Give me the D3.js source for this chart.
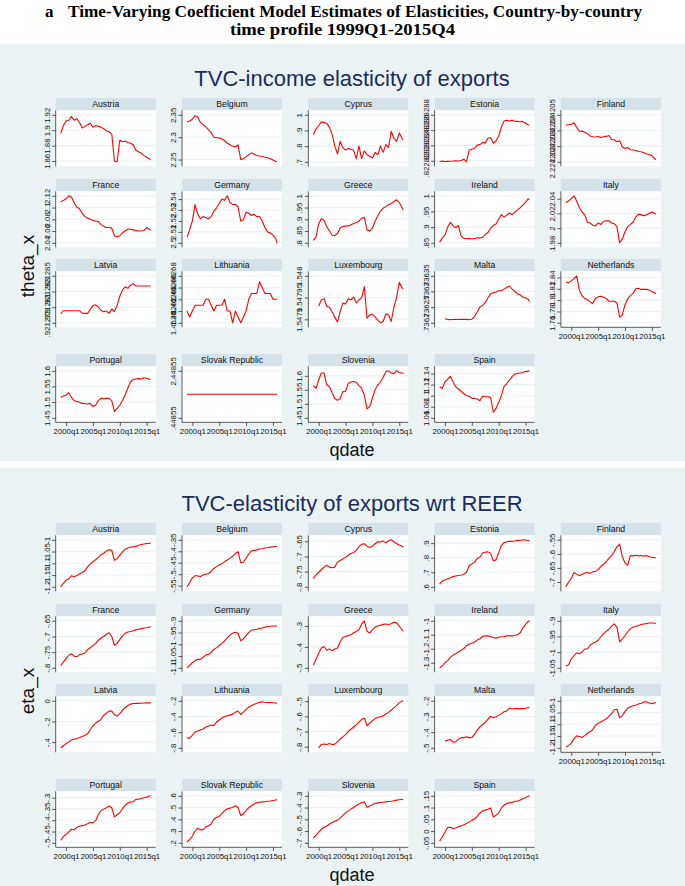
<!DOCTYPE html>
<html><head><meta charset="utf-8">
<script src="https://cdn.jsdelivr.net/npm/d3@7"></script>
<style>body{margin:0;background:#fff} svg{display:block}</style>
</head><body>
<svg id="chart" width="685" height="886"></svg>
<script>
const quarters = ["1999q1","1999q3","2000q1","2000q3","2001q1","2001q3","2002q1","2002q3","2003q1","2003q3","2004q1","2004q3","2005q1","2005q3","2006q1","2006q3","2007q1","2007q3","2008q1","2008q3","2009q1","2009q3","2010q1","2010q3","2011q1","2011q3","2012q1","2012q3","2013q1","2013q3","2014q1","2014q3","2015q1","2015q3","2015q4"];
const xTickLabels = ["2000q1","2005q1","2010q1","2015q1"];
const countries = ["Austria","Belgium","Cyprus","Estonia","Finland","France","Germany","Greece","Ireland","Italy","Latvia","Lithuania","Luxembourg","Malta","Netherlands","Portugal","Slovak Republic","Slovenia","Spain"];

// theta_x (income elasticity)
const thetaAustria = [1.896,1.906,1.912,1.913,1.918,1.913,1.915,1.91,1.903,1.905,1.907,1.909,1.904,1.906,1.905,1.904,1.902,1.899,1.898,1.895,1.86,1.859,1.887,1.885,1.886,1.884,1.883,1.881,1.874,1.872,1.87,1.867,1.865,1.863,1.862];
const thetaBelgium = [2.334,2.336,2.34,2.348,2.345,2.333,2.328,2.323,2.317,2.31,2.3,2.299,2.298,2.296,2.292,2.287,2.283,2.28,2.278,2.283,2.25,2.252,2.256,2.261,2.265,2.262,2.259,2.258,2.257,2.255,2.254,2.252,2.249,2.246,2.245];
const thetaCyprus = [.875,.91,.93,.955,.95,.945,.92,.875,.8,.75,.83,.79,.775,.785,.78,.775,.72,.8,.72,.77,.745,.735,.725,.76,.745,.8,.76,.81,.79,.895,.85,.83,.885,.85,.84];
const thetaEstonia = [.82282819,.822828196,.82282819,.822828192,.822828194,.822828196,.8228282,.822828196,.822828204,.82282822,.822828186,.82282834,.82282835,.82282836,.822828404,.82282841,.82282844,.82282843,.822828496,.8228285,.822828428,.82282846,.82282852,.82282864,.82282872,.82282873,.82282872,.82282873,.822828716,.822828714,.82282871,.822828714,.82282869,.822828666,.822828664];
const thetaFinland = [2.22420433,2.22420436,2.2242044,2.2242045,2.2242042,2.22420395,2.22420397,2.22420388,2.2242038,2.22420365,2.2242036,2.22420358,2.22420362,2.22420355,2.2242036,2.22420362,2.22420368,2.22420342,2.2242034,2.22420328,2.22420335,2.22420295,2.22420285,2.22420292,2.22420277,2.22420275,2.22420272,2.22420266,2.22420264,2.22420258,2.2242025,2.22420247,2.2242024,2.2242022,2.22420215];
const thetaFrance = [2.11,2.112,2.115,2.12,2.118,2.108,2.101,2.098,2.09,2.085,2.082,2.08,2.078,2.077,2.076,2.071,2.068,2.066,2.066,2.065,2.052,2.05,2.052,2.057,2.06,2.063,2.063,2.062,2.061,2.06,2.06,2.061,2.066,2.063,2.062];
const thetaGermany = [2.505,2.512,2.52,2.535,2.526,2.522,2.524,2.523,2.522,2.524,2.529,2.532,2.536,2.54,2.539,2.543,2.537,2.535,2.535,2.533,2.52,2.521,2.528,2.527,2.525,2.526,2.524,2.524,2.52,2.514,2.51,2.509,2.507,2.504,2.5];
const thetaGreece = [.81,.825,.88,.903,.895,.868,.85,.832,.831,.84,.862,.87,.871,.872,.877,.882,.886,.892,.905,.908,.855,.85,.862,.892,.915,.935,.947,.955,.962,.967,.975,.983,.972,.95,.94];
const thetaIreland = [.852,.865,.875,.9,.915,.905,.898,.905,.872,.864,.863,.864,.862,.864,.866,.865,.868,.876,.883,.897,.905,.91,.925,.94,.932,.938,.945,.94,.948,.955,.962,.97,.98,.99,.988];
const thetaItaly = [2.035,2.037,2.04,2.044,2.037,2.028,2.022,2.018,2.008,2.007,2.004,2.003,2.007,2.005,2.009,2.01,2.01,2.007,2.006,2.002,1.98,1.985,1.995,2.002,2.005,2.008,2.015,2.019,2.018,2.017,2.018,2.02,2.022,2.02,2.019];
const thetaLatvia = [.92128012,.92128054,.92128054,.92128054,.92128054,.92128054,.92128054,.92128054,.92128024,.9212802,.9212802,.9212807,.9212812,.9212813,.921281,.9212806,.9212804,.9212805,.9212802,.92128076,.92128044,.9212812,.9212824,.9212832,.9212836,.9212834,.9212838,.921284,.9212837,.9212837,.9212837,.9212837,.9212837,.9212837,.9212837];
const thetaLithuania = [1.46262,1.46261,1.46262,1.46263,1.46263,1.46263,1.46263,1.46264,1.46264,1.46263,1.46262,1.46263,1.46263,1.46263,1.46264,1.46262,1.46262,1.4626,1.46262,1.46261,1.4626,1.46261,1.46262,1.46264,1.46265,1.46265,1.46265,1.46267,1.46266,1.46265,1.46265,1.46265,1.46264,1.46264,1.46264];
const thetaLuxembourg = [null,null,1.54793,1.547945,1.5479475,1.54793,1.5479275,1.5479175,1.547905,1.547894,1.5479175,1.5479375,1.547935,1.547947,1.547945,1.547951,1.5479375,1.547945,1.54795,1.547975,1.5479025,1.54791,1.5479115,1.547906,1.5478975,1.547892,1.547895,1.5479125,1.54791,1.547895,1.5479275,1.54795,1.547985,1.5479725,1.54797];
const thetaMalta = [null,null,.736213,.736211,.73621,.7362105,.736211,.7362105,.736211,.736211,.736211,.73621,.7362115,.73622,.7362345,.73625,.736255,.736265,.73628,.7362925,.736296,.7362985,.7363025,.7363025,.7363075,.7363125,.7363175,.7363075,.7363,.7362925,.7362885,.7362825,.736279,.736275,.7362675];
const thetaNetherlands = [1.832,1.831,1.834,1.838,1.843,1.818,1.808,1.803,1.801,1.797,1.794,1.803,1.806,1.807,1.805,1.803,1.798,1.798,1.798,1.795,1.77,1.774,1.792,1.802,1.808,1.812,1.82,1.821,1.819,1.819,1.819,1.818,1.815,1.813,1.811];
const thetaPortugal = [1.515,1.52,1.523,1.53,1.515,1.505,1.502,1.5,1.496,1.495,1.494,1.496,1.486,1.49,1.505,1.512,1.511,1.512,1.512,1.505,1.47,1.48,1.49,1.505,1.523,1.545,1.565,1.572,1.574,1.575,1.574,1.578,1.576,1.573,1.572];
const thetaSlovak = [1.44855,1.44855,1.44855,1.44855,1.44855,1.44855,1.44855,1.44855,1.44855,1.44855,1.44855,1.44855,1.44855,1.44855,1.44855,1.44855,1.44855,1.44855,1.44855,1.44855,1.44855,1.44855,1.44855,1.44855,1.44855,1.44855,1.44855,1.44855,1.44855,1.44855,1.44855,1.44855,1.44855,1.44855,1.44855];
const thetaSlovenia = [1.565,1.555,1.585,1.61,1.61,1.568,1.562,1.54,1.519,1.513,1.518,1.544,1.545,1.573,1.578,1.58,1.577,1.565,1.555,1.53,1.482,1.49,1.52,1.55,1.567,1.578,1.595,1.615,1.618,1.61,1.608,1.618,1.612,1.61,1.608];
const thetaSpain = [1.116,1.113,1.125,1.13,1.135,1.125,1.116,1.112,1.108,1.104,1.1,1.099,1.095,1.095,1.094,1.091,1.099,1.098,1.098,1.097,1.07,1.077,1.088,1.1,1.117,1.122,1.128,1.135,1.139,1.14,1.141,1.142,1.144,1.144,1.145];

// eta_x (elasticity wrt REER)
const etaAustria = [-1.2,-1.185,-1.172,-1.166,-1.153,-1.157,-1.152,-1.145,-1.14,-1.132,-1.115,-1.103,-1.093,-1.085,-1.075,-1.064,-1.057,-1.048,-1.042,-1.045,-1.087,-1.08,-1.065,-1.051,-1.04,-1.035,-1.032,-1.03,-1.028,-1.023,-1.02,-1.018,-1.016,-1.016,-1.013];
const etaBelgium = [-.555,-.536,-.516,-.506,-.508,-.51,-.503,-.5,-.497,-.488,-.475,-.467,-.46,-.454,-.445,-.438,-.43,-.422,-.41,-.402,-.45,-.447,-.43,-.412,-.398,-.396,-.394,-.39,-.389,-.386,-.385,-.382,-.381,-.379,-.378];
const etaCyprus = [-.772,-.761,-.752,-.743,-.735,-.729,-.735,-.737,-.735,-.718,-.713,-.708,-.703,-.696,-.69,-.687,-.68,-.668,-.66,-.658,-.666,-.67,-.666,-.658,-.652,-.652,-.649,-.655,-.648,-.645,-.652,-.657,-.662,-.666,-.668];
const etaEstonia = [.619,.64,.647,.655,.662,.67,.674,.678,.681,.685,.7,.745,.757,.768,.795,.805,.832,.838,.84,.83,.78,.785,.835,.885,.903,.91,.912,.912,.915,.919,.92,.923,.922,.917,.918];
const etaFinland = [-.717,-.7,-.688,-.666,-.672,-.677,-.673,-.668,-.666,-.669,-.664,-.662,-.655,-.645,-.637,-.628,-.616,-.606,-.592,-.575,-.565,-.61,-.632,-.64,-.606,-.607,-.605,-.607,-.606,-.608,-.606,-.61,-.612,-.614,-.614];
const etaFrance = [-.793,-.782,-.771,-.76,-.755,-.763,-.765,-.758,-.756,-.753,-.742,-.736,-.729,-.722,-.712,-.705,-.7,-.693,-.688,-.7,-.728,-.722,-.71,-.698,-.69,-.686,-.684,-.682,-.679,-.677,-.675,-.673,-.672,-.67,-.669];
const etaGermany = [-1.1,-1.09,-1.078,-1.07,-1.064,-1.064,-1.055,-1.046,-1.042,-1.035,-1.022,-1.014,-1.005,-.996,-.986,-.973,-.96,-.953,-.949,-.953,-.985,-.977,-.963,-.95,-.94,-.938,-.936,-.933,-.931,-.927,-.924,-.923,-.922,-.922,-.922];
const etaGreece = [-.487,-.46,-.43,-.405,-.398,-.415,-.41,-.418,-.41,-.405,-.375,-.355,-.35,-.346,-.342,-.332,-.326,-.318,-.29,-.275,-.325,-.333,-.318,-.305,-.3,-.296,-.292,-.29,-.293,-.289,-.282,-.285,-.3,-.318,-.325];
const etaIreland = [-1.336,-1.322,-1.3,-1.285,-1.262,-1.245,-1.235,-1.223,-1.212,-1.198,-1.178,-1.168,-1.16,-1.152,-1.138,-1.128,-1.112,-1.108,-1.108,-1.112,-1.12,-1.124,-1.118,-1.114,-1.112,-1.108,-1.107,-1.108,-1.105,-1.1,-1.085,-1.05,-1.025,-1.005,-1];
const etaItaly = [-1.044,-1.04,-1.022,-1.012,-1.002,-1.005,-1,-.99,-.99,-.978,-.972,-.968,-.962,-.951,-.942,-.934,-.927,-.917,-.91,-.92,-.967,-.958,-.947,-.935,-.925,-.92,-.918,-.915,-.912,-.91,-.909,-.907,-.907,-.908,-.908];
const etaLatvia = [-.455,-.435,-.415,-.398,-.38,-.372,-.366,-.356,-.345,-.333,-.32,-.28,-.242,-.215,-.2,-.18,-.14,-.12,-.1,-.1,-.135,-.148,-.125,-.09,-.065,-.045,-.032,-.026,-.025,-.025,-.024,-.022,-.02,-.02,-.02];
const etaLithuania = [-.677,-.677,-.64,-.6,-.585,-.572,-.56,-.535,-.525,-.51,-.515,-.47,-.445,-.42,-.4,-.39,-.383,-.37,-.345,-.33,-.375,-.345,-.31,-.28,-.262,-.245,-.235,-.22,-.212,-.218,-.221,-.222,-.224,-.228,-.23];
const etaLuxembourg = [null,null,-.807,-.785,-.782,-.785,-.779,-.786,-.783,-.768,-.751,-.735,-.72,-.7,-.685,-.67,-.656,-.638,-.62,-.612,-.662,-.645,-.628,-.615,-.608,-.603,-.597,-.585,-.574,-.56,-.545,-.53,-.51,-.5,-.498];
const etaMalta = [null,null,-.457,-.452,-.447,-.465,-.462,-.445,-.435,-.435,-.43,-.435,-.434,-.415,-.387,-.366,-.353,-.338,-.318,-.299,-.308,-.302,-.293,-.282,-.27,-.265,-.248,-.252,-.25,-.25,-.25,-.25,-.248,-.243,-.244];
const etaNetherlands = [-1.197,-1.19,-1.18,-1.162,-1.149,-1.152,-1.156,-1.148,-1.138,-1.132,-1.122,-1.104,-1.096,-1.09,-1.084,-1.077,-1.066,-1.055,-1.038,-1.036,-1.072,-1.064,-1.045,-1.032,-1.025,-1.021,-1.019,-1.014,-1.01,-1.005,-1.004,-1.009,-1.012,-1.008,-1.009];
const etaPortugal = [-.489,-.473,-.463,-.452,-.44,-.443,-.432,-.427,-.424,-.421,-.416,-.41,-.412,-.402,-.375,-.358,-.351,-.345,-.337,-.345,-.385,-.376,-.367,-.348,-.334,-.324,-.32,-.318,-.308,-.307,-.304,-.301,-.298,-.293,-.292];
const etaSlovak = [.206,.228,.258,.3,.325,.31,.312,.335,.345,.36,.4,.415,.425,.448,.475,.49,.495,.5,.515,.5,.432,.445,.475,.5,.515,.53,.54,.545,.548,.55,.553,.555,.56,.565,.568];
const etaSlovenia = [-.657,-.638,-.61,-.585,-.568,-.557,-.54,-.528,-.516,-.505,-.49,-.467,-.445,-.43,-.413,-.4,-.383,-.37,-.358,-.352,-.397,-.387,-.375,-.366,-.36,-.357,-.355,-.352,-.349,-.346,-.342,-.337,-.333,-.331,-.33];
const etaSpain = [-.043,-.025,-.005,.015,.016,.011,.013,.018,.022,.027,.032,.039,.045,.052,.062,.077,.085,.089,.093,.098,.06,.067,.077,.098,.11,.117,.12,.122,.127,.127,.132,.137,.142,.148,.15];

// y-axis tick values
const thetaTicks = [[1.86,1.88,1.9,1.92],[2.25,2.3,2.35],[.7,.8,.9,1],[.8228282,.8228284,.8228286,.8228288],[2.224202,2.224203,2.224204,2.224205],
  [2.04,2.06,2.08,2.1,2.12],[2.5,2.51,2.52,2.53,2.54],[.8,.85,.9,.95,1],[.85,.9,.95,1],[1.98,2,2.02,2.04],
  [.921279,.921281,.921283,.921285],[1.4626,1.46262,1.46264,1.46266,1.46268],[1.5479,1.54795,1.548],[.7362,.73625,.7363,.73635],[1.76,1.78,1.8,1.82,1.84],
  [1.45,1.5,1.55,1.6],[.44855,2.44855],[1.45,1.5,1.55,1.6],[1.06,1.08,1.1,1.12,1.14]];
const etaTicks = [[-1.2,-1.15,-1.1,-1.05,-1],[-.55,-.5,-.45,-.4,-.35],[-.8,-.75,-.7,-.65],[.6,.7,.8,.9],[-.7,-.65,-.6,-.55],
  [-.8,-.75,-.7,-.65],[-1.1,-1.05,-1,-.95,-.9],[-.5,-.4,-.3],[-1.3,-1.2,-1.1,-1],[-1.05,-1,-.95,-.9],
  [-.4,-.2,0],[-.8,-.6,-.4,-.2],[-.8,-.7,-.6,-.5],[-.5,-.4,-.3,-.2],[-1.2,-1.15,-1.1,-1.05,-1],
  [-.5,-.45,-.4,-.35,-.3],[.2,.3,.4,.5,.6],[-.7,-.6,-.5,-.4,-.3],[-.05,0,.05,.1,.15]];

const thetaSeries = [thetaAustria,thetaBelgium,thetaCyprus,thetaEstonia,thetaFinland,thetaFrance,thetaGermany,thetaGreece,thetaIreland,thetaItaly,thetaLatvia,thetaLithuania,thetaLuxembourg,thetaMalta,thetaNetherlands,thetaPortugal,thetaSlovak,thetaSlovenia,thetaSpain];
const etaSeries = [etaAustria,etaBelgium,etaCyprus,etaEstonia,etaFinland,etaFrance,etaGermany,etaGreece,etaIreland,etaItaly,etaLatvia,etaLithuania,etaLuxembourg,etaMalta,etaNetherlands,etaPortugal,etaSlovak,etaSlovenia,etaSpain];

// ---------- drawing ----------
const parseQ = s => (+s.slice(0,4) - 1960) * 4 + (+s.slice(5)) - 1;
const qIdx = quarters.map(parseQ);
const fmt = v => String(+(+v).toPrecision(12)).replace(/^(-?)0\./, "$1.");
const FONT = "'Liberation Sans', Arial, Helvetica, sans-serif";
const SERIF = "'Liberation Serif','Times New Roman',serif";

const svg = d3.select("#chart");
svg.append("rect").attr("width",685).attr("height",886).attr("fill","#fff");

// main title
svg.append("text").attr("x",45).attr("y",17).attr("font-family",SERIF)
  .attr("font-weight","bold").attr("font-size",17).attr("fill","#000").text("a");
svg.append("text").attr("x",68).attr("y",17).attr("font-family",SERIF)
  .attr("font-weight","bold").attr("font-size",17).attr("fill","#000")
  .attr("textLength",574).attr("lengthAdjust","spacingAndGlyphs")
  .text("Time-Varying Coefficient Model Estimates of Elasticities, Country-by-country");
svg.append("text").attr("x",230).attr("y",35).attr("font-family",SERIF)
  .attr("font-weight","bold").attr("font-size",17).attr("fill","#000")
  .attr("textLength",225).attr("lengthAdjust","spacingAndGlyphs")
  .text("time profile 1999Q1-2015Q4");

const panels = [
  {dy:0, bgTop:44, bgH:417, title:"TVC-income elasticity of exports", ylab:"theta_x", series:thetaSeries, ticks:thetaTicks},
  {dy:425, bgTop:468, bgH:418, title:"TVC-elasticity of exports wrt REER", ylab:"eta_x", series:etaSeries, ticks:etaTicks}
];

const rowTops = [98, 179, 259, 354];
const headerH = 12.3, plotH = 56, plotW = 100;
const colLeft = c => 55.7 + 126.3 * c;

const x = d3.scaleLinear().domain(d3.extent(qIdx)).range([5, plotW - 5]);

panels.forEach(p => {
  svg.append("rect").attr("x",0).attr("y",p.bgTop).attr("width",685).attr("height",p.bgH).attr("fill","#eaf2f3");
  svg.append("text").attr("x",352).attr("y",86 + p.dy).attr("text-anchor","middle")
    .attr("font-family",FONT).attr("font-size",22).attr("fill","#1c2c5c").text(p.title);
  svg.append("text").attr("transform",`translate(34,${266 + p.dy}) rotate(-90)`).attr("text-anchor","middle")
    .attr("font-family",FONT).attr("font-size",19).attr("fill","#111").text(p.ylab);
  svg.append("text").attr("x",352).attr("y",456 + p.dy).attr("text-anchor","middle")
    .attr("font-family",FONT).attr("font-size",18).attr("fill","#111").text("qdate");

  countries.forEach((name, i) => {
    const r = Math.floor(i / 5), c = i % 5;
    const g = svg.append("g").attr("transform",`translate(${colLeft(c)},${rowTops[r] + p.dy})`);
    const vals = p.series[i];
    const ticks = p.ticks[i];
    const ext = d3.extent(vals.filter(v => v != null).concat(ticks));
    const y = d3.scaleLinear().domain(ext).range([headerH + plotH - 4.5, headerH + 4.5]);

    g.append("rect").attr("width",plotW).attr("height",headerH).attr("fill","#d6e2e9");
    g.append("text").attr("x",plotW/2).attr("y",headerH/2 + 3.1).attr("text-anchor","middle")
      .attr("font-family",FONT).attr("font-size",8.7).attr("fill","#111").text(name);
    g.append("rect").attr("y",headerH).attr("width",plotW).attr("height",plotH).attr("fill","#fff");

    g.selectAll("line.grid").data(ticks).join("line").attr("class","grid")
      .attr("x1",0).attr("x2",plotW).attr("y1",d => y(d)).attr("y2",d => y(d))
      .attr("stroke","#eaf2f3").attr("stroke-width",1.1);

    const pts = vals.map((v, k) => ({q: qIdx[k], v}));
    g.append("path").datum(pts)
      .attr("d", d3.line().defined(d => d.v != null).x(d => x(d.q)).y(d => y(d.v)))
      .attr("fill","none").attr("stroke","#ff0000").attr("stroke-width",1.1).attr("stroke-linejoin","round");

    // y axis
    const ya = g.append("g").call(d3.axisLeft(y).tickValues(ticks).tickFormat(fmt).tickSize(3.5).tickSizeOuter(0));
    ya.select(".domain").remove();
    ya.selectAll(".tick line").attr("stroke","#333").attr("stroke-width",0.8);
    ya.selectAll(".tick text").attr("transform","rotate(-90)").attr("x",0).attr("y",-6).attr("dy",0)
      .attr("text-anchor","middle").attr("font-family",FONT).attr("font-size",7.8).attr("fill","#111");
    g.append("line").attr("x1",0).attr("x2",0).attr("y1",headerH).attr("y2",headerH + plotH)
      .attr("stroke","#333").attr("stroke-width",0.8);

    // x axis on bottom plots
    if (r === 3 || (r === 2 && c === 4)) {
      const xa = g.append("g").attr("transform",`translate(0,${headerH + plotH})`)
        .call(d3.axisBottom(x).tickValues(xTickLabels.map(parseQ)).tickFormat((d, k) => xTickLabels[k]).tickSize(3.5).tickSizeOuter(0));
      xa.select(".domain").remove();
      xa.selectAll(".tick line").attr("stroke","#333").attr("stroke-width",0.8);
      xa.selectAll(".tick text").attr("y",6).attr("dy","0.71em").attr("font-family",FONT).attr("font-size",7.8).attr("fill","#111");
      g.append("line").attr("x1",0).attr("x2",plotW).attr("y1",headerH + plotH).attr("y2",headerH + plotH)
        .attr("stroke","#333").attr("stroke-width",0.8);
    }
  });
});
</script>
</body></html>
